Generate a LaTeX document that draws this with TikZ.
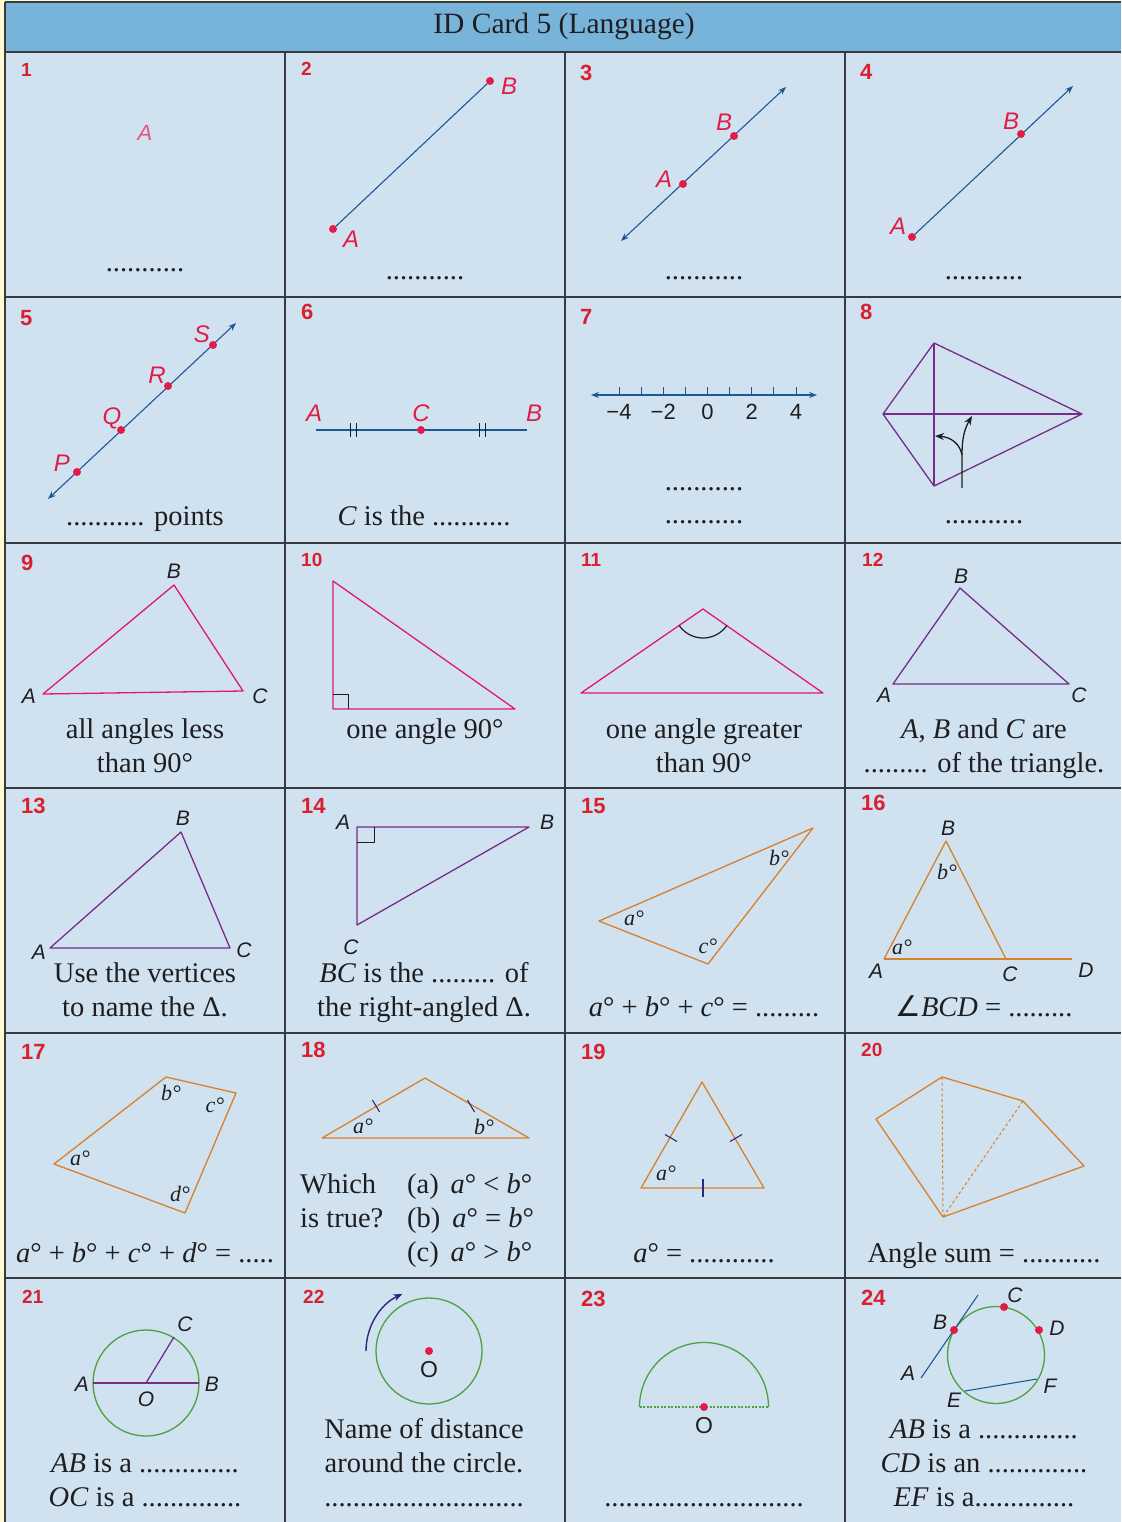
\documentclass[tikz,border=0pt]{standalone}
\usepackage{fontspec}
\setmainfont{Liberation Serif}
\newfontfamily\sansfam{Liberation Sans}
\newfontfamily\symfam{DejaVu Sans}
\usetikzlibrary{arrows.meta,calc}
\definecolor{ink}{RGB}{30,30,32}
\definecolor{pagecream}{RGB}{255,249,210}
\definecolor{headblue}{RGB}{120,180,217}
\definecolor{cellblue}{RGB}{208,226,239}
\definecolor{gridgray}{RGB}{55,58,62}
\definecolor{numred}{RGB}{218,32,48}
\definecolor{pointred}{RGB}{226,28,72}
\definecolor{rayblue}{RGB}{28,88,150}
\definecolor{shapemagenta}{RGB}{226,22,120}
\definecolor{shapepurple}{RGB}{118,44,138}
\definecolor{shapeorange}{RGB}{216,128,44}
\definecolor{circlegreen}{RGB}{78,160,66}
\definecolor{marknavy}{RGB}{40,42,120}

\tikzset{
  gridline/.style={draw=gridgray,line width=1.4pt},
  numtall/.style={font=\sansfam\bfseries\fontsize{22}{22}\selectfont,text=numred,anchor=west,inner sep=0pt},
  numsmall/.style={numtall,font=\sansfam\bfseries\fontsize{19}{19}\selectfont},
  ptlabel/.style={font=\sansfam\itshape\fontsize{24}{24}\selectfont,text=pointred,inner sep=0pt},
  vxlabel/.style={font=\sansfam\itshape\fontsize{21}{21}\selectfont,text=ink,inner sep=0pt},
  olabel/.style={font=\sansfam\fontsize{23}{23}\selectfont,text=ink,inner sep=0pt},
  anglabel/.style={font=\itshape\fontsize{22}{22}\selectfont,text=ink,inner sep=0pt},
  celltext/.style={font=\fontsize{28.5}{34}\selectfont,text=ink,inner sep=0pt,anchor=base},
  dotmark/.style={circle,fill=pointred,inner sep=0pt,minimum size=8pt},
  ray/.style={draw=rayblue,line width=1.1pt},
  oneway/.style={ray,-{Stealth[length=8pt,width=6pt]}},
  twoway/.style={ray,{Stealth[length=8pt,width=6pt]}-{Stealth[length=8pt,width=6pt]}},
  magline/.style={draw=shapemagenta,line width=1.3pt,line join=round},
  purpline/.style={draw=shapepurple,line width=1.3pt,line join=round},
  orangeline/.style={draw=shapeorange,line width=1.3pt,line join=round},
  greenline/.style={draw=circlegreen,line width=1.3pt},
  tickmark/.style={draw=marknavy,line width=1.1pt}
}

\begin{document}
\begin{tikzpicture}[x=1pt,y=-1pt]
  \useasboundingbox (0,0) rectangle (1121,1522);
  \fill[pagecream] (0,0) rectangle (1121,1522);
  \fill[headblue] (5,2) rectangle (1121,52);
  \fill[cellblue] (5,52) rectangle (1121,1522);
  \foreach \y in {2,52,297,543,788,1033,1278}
    \draw[gridline] (5,\y) -- (1121,\y);
  \draw[gridline] (5,2) -- (5,1522);
  \foreach \x in {285,565,845}
    \draw[gridline] (\x,52) -- (\x,1522);

  \node[font=\fontsize{29.5}{29.5}\selectfont,text=ink,anchor=base,inner sep=0pt]
    (title) at (564,34) {ID Card 5 (Language)};

  \foreach \n/\x/\y/\s in {1/21/70/numsmall,2/301/69/numsmall,3/580/73/numtall,
      4/860/72/numtall,5/20/318/numtall,6/301/312/numtall,7/580/317/numtall,
      8/860/312/numtall,9/21/563/numtall,10/301/560/numsmall,11/581/560/numsmall,
      12/862/560/numsmall,13/21/806/numtall,14/301/806/numtall,15/581/806/numtall,
      16/861/803/numtall,17/21/1052/numtall,18/301/1050/numtall,19/581/1052/numtall,
      20/861/1050/numsmall,21/22/1297/numsmall,22/303/1297/numsmall,
      23/581/1299/numtall,24/861/1298/numtall}
    \node[\s] (num\n) at (\x,\y) {\n};

  % row 1
  \node[ptlabel,font=\sansfam\itshape\fontsize{22}{22}\selectfont,text=pointred!75]
    (la1) at (145,133) {A};
  \node[celltext] (txt1) at (145,272) {...........};

  \coordinate (pa2) at (333,229);
  \coordinate (pb2) at (490,81);
  \draw[ray] (pa2) -- (pb2);
  \node[dotmark] (da2) at (pa2) {};
  \node[dotmark] (db2) at (pb2) {};
  \node[ptlabel] (la2) at (351,239) {A};
  \node[ptlabel] (lb2) at (509,86) {B};
  \node[celltext] (txt2) at (425,279) {...........};

  \coordinate (s3) at (621,241);
  \coordinate (e3) at (786,87);
  \draw[twoway] (s3) -- (e3);
  \node[dotmark] (da3) at (683,184) {};
  \node[dotmark] (db3) at (734,136) {};
  \node[ptlabel] (la3) at (664,179) {A};
  \node[ptlabel] (lb3) at (724,122) {B};
  \node[celltext] (txt3) at (704,279) {...........};

  \coordinate (pa4) at (912,237);
  \coordinate (e4) at (1073,86);
  \draw[oneway] (pa4) -- (e4);
  \node[dotmark] (da4) at (pa4) {};
  \node[dotmark] (db4) at (1021,134) {};
  \node[ptlabel] (la4) at (898,226) {A};
  \node[ptlabel] (lb4) at (1011,121) {B};
  \node[celltext] (txt4) at (984,279) {...........};

  % row 2
  \coordinate (s5) at (48,499);
  \coordinate (e5) at (236,323);
  \draw[twoway] (s5) -- (e5);
  \foreach \p/\x/\y/\lx/\ly in {P/77/472/62/463,Q/121/430/112/418,
      R/168/386/157/375,S/213/345/202/334}{
    \node[dotmark] (d\p) at (\x,\y) {};
    \node[ptlabel] (l\p) at (\lx,\ly) {\p};
  }
  \node[celltext] (txt5) at (145,525) {........... points};

  \coordinate (pa6) at (316,430);
  \coordinate (pb6) at (527,430);
  \draw[ray] (pa6) -- (pb6);
  \foreach \x in {350,356,479,485}
    \draw[ink,line width=1pt] (\x,423) -- (\x,437);
  \node[dotmark] (dc6) at (421,430) {};
  \node[ptlabel] (la6) at (314,413) {A};
  \node[ptlabel] (lc6) at (421,413) {C};
  \node[ptlabel] (lb6) at (534,413) {B};
  \node[celltext] (txt6) at (424,525) {\textit{C} is the ...........};

  \coordinate (s7) at (591,395);
  \coordinate (e7) at (817,395);
  \draw[twoway] (s7) -- (e7);
  \foreach \i in {0,...,8}
    \draw[rayblue,line width=1pt] ({619+22.125*\i},387) -- ({619+22.125*\i},395);
  \foreach \v/\i in {−4/0,−2/2,0/4,2/6,4/8}
    \node[font=\sansfam\fontsize{22}{22}\selectfont,text=ink,inner sep=0pt]
      (tick\i) at ({619+22.125*\i},412) {\v};
  \node[celltext] (txt7a) at (704,490) {...........};
  \node[celltext] (txt7b) at (704,523) {...........};

  \coordinate (kt) at (934,343);
  \coordinate (kl) at (883,414);
  \coordinate (kr) at (1082,414);
  \coordinate (kb) at (934,486);
  \draw[purpline] (kt) -- (kr) -- (kb) -- (kl) -- cycle;
  \draw[purpline] (kt) -- (kb);
  \draw[purpline] (kl) -- (kr);
  \coordinate (ks) at (962,488);
  \coordinate (kj) at (962,455);
  \draw[ink,line width=1.3pt,-{Stealth[length=9pt,width=7pt]}]
    (ks) -- (kj) .. controls (962,437) and (965,428) .. (972,416);
  \draw[ink,line width=1.3pt,-{Stealth[length=9pt,width=7pt]}]
    (kj) .. controls (960,444) and (951,437) .. (935,436);
  \node[celltext] (txt8) at (984,523) {...........};

  % row 3
  \coordinate (a9) at (43,694);
  \coordinate (b9) at (174,585);
  \coordinate (c9) at (243,691);
  \draw[magline] (a9) -- (b9) -- (c9) -- cycle;
  \node[vxlabel] (la9) at (29,696) {A};
  \node[vxlabel] (lb9) at (174,571) {B};
  \node[vxlabel] (lc9) at (260,696) {C};
  \node[celltext] (txt9a) at (145,738) {all angles less};
  \node[celltext] (txt9b) at (145,772) {than 90°};

  \coordinate (a10) at (333,581);
  \coordinate (b10) at (333,709);
  \coordinate (c10) at (515,709);
  \draw[magline] (a10) -- (b10) -- (c10) -- cycle;
  \draw[ink,line width=0.9pt] (333,694) -- (348,694) -- (348,709);
  \node[celltext] (txt10) at (425,738) {one angle 90°};

  \coordinate (a11) at (581,693);
  \coordinate (b11) at (703,609);
  \coordinate (c11) at (823,693);
  \draw[magline] (a11) -- (b11) -- (c11) -- cycle;
  \draw[ink,line width=1.2pt] (b11) ++(145:29) arc[start angle=145,end angle=35,radius=29];
  \node[celltext] (txt11a) at (704,738) {one angle greater};
  \node[celltext] (txt11b) at (704,772) {than 90°};

  \coordinate (a12) at (893,684);
  \coordinate (b12) at (960,588);
  \coordinate (c12) at (1069,684);
  \draw[purpline] (a12) -- (b12) -- (c12) -- cycle;
  \node[vxlabel] (la12) at (884,695) {A};
  \node[vxlabel] (lb12) at (961,576) {B};
  \node[vxlabel] (lc12) at (1079,695) {C};
  \node[celltext] (txt12a) at (984,738) {\textit{A}, \textit{B} and \textit{C} are};
  \node[celltext] (txt12b) at (984,772) {......... of the triangle.};

  % row 4
  \coordinate (a13) at (50,948);
  \coordinate (b13) at (181,832);
  \coordinate (c13) at (230,948);
  \draw[purpline] (a13) -- (b13) -- (c13) -- cycle;
  \node[vxlabel] (la13) at (39,952) {A};
  \node[vxlabel] (lb13) at (183,818) {B};
  \node[vxlabel] (lc13) at (244,950) {C};
  \node[celltext] (txt13a) at (145,982) {Use the vertices};
  \node[celltext] (txt13b) at (145,1016) {to name the Δ.};

  \coordinate (a14) at (357,827);
  \coordinate (b14) at (529,827);
  \coordinate (c14) at (357,925);
  \draw[purpline] (a14) -- (b14) -- (c14) -- cycle;
  \draw[ink,line width=0.9pt] (357,842) -- (374,842) -- (374,827);
  \node[vxlabel] (la14) at (343,822) {A};
  \node[vxlabel] (lb14) at (547,822) {B};
  \node[vxlabel] (lc14) at (351,947) {C};
  \node[celltext] (txt14a) at (424,982) {\textit{BC} is the ......... of};
  \node[celltext] (txt14b) at (424,1016) {the right-angled Δ.};

  \coordinate (a15) at (599,921);
  \coordinate (b15) at (813,828);
  \coordinate (c15) at (708,964);
  \draw[orangeline] (a15) -- (b15) -- (c15) -- cycle;
  \node[anglabel] (ga15) at (634,918) {a°};
  \node[anglabel] (gb15) at (779,858) {b°};
  \node[anglabel] (gc15) at (708,946) {c°};
  \node[celltext] (txt15) at (704,1016) {\textit{a}° + \textit{b}° + \textit{c}° = .........};

  \coordinate (a16) at (884,959);
  \coordinate (b16) at (946,841);
  \coordinate (c16) at (1006,959);
  \coordinate (d16) at (1072,959);
  \draw[orangeline] (a16) -- (b16) -- (c16);
  \draw[orangeline] (a16) -- (d16);
  \node[anglabel] (gb16) at (947,872) {b°};
  \node[anglabel] (ga16) at (902,947) {a°};
  \node[vxlabel] (lb16) at (948,828) {B};
  \node[vxlabel] (la16) at (876,971) {A};
  \node[vxlabel] (lc16) at (1010,974) {C};
  \node[vxlabel] (ld16) at (1086,970) {D};
  \node[celltext] (txt16) at (984,1016) {{\symfam ∠}\textit{BCD} = .........};

  % row 5
  \coordinate (a17) at (54,1164);
  \coordinate (b17) at (166,1077);
  \coordinate (c17) at (236,1093);
  \coordinate (d17) at (185,1213);
  \draw[orangeline] (a17) -- (b17) -- (c17) -- (d17) -- cycle;
  \node[anglabel] (ga17) at (80,1158) {a°};
  \node[anglabel] (gb17) at (171,1093) {b°};
  \node[anglabel] (gc17) at (215,1105) {c°};
  \node[anglabel] (gd17) at (180,1194) {d°};
  \node[celltext] (txt17) at (145,1262) {\textit{a}° + \textit{b}° + \textit{c}° + \textit{d}° = .....};

  \coordinate (a18) at (322,1138);
  \coordinate (b18) at (425,1078);
  \coordinate (c18) at (529,1138);
  \draw[orangeline] (a18) -- (b18) -- (c18) -- cycle;
  \draw[tickmark] (372.4,1100) -- (379.6,1112);
  \draw[tickmark] (467.5,1100) -- (474.5,1112);
  \node[anglabel] (ga18) at (363,1126) {a°};
  \node[anglabel] (gb18) at (484,1127) {b°};
  \node[celltext,anchor=base west] (txt18a) at (300,1193) {Which};
  \node[celltext,anchor=base west] (txt18b) at (300,1227) {is true?};
  \node[celltext,anchor=base west] (opt18a) at (407,1193) {(a)\, \textit{a}° < \textit{b}°};
  \node[celltext,anchor=base west] (opt18b) at (407,1227) {(b)\, \textit{a}° = \textit{b}°};
  \node[celltext,anchor=base west] (opt18c) at (407,1261) {(c)\, \textit{a}° > \textit{b}°};

  \coordinate (a19) at (702,1082);
  \coordinate (b19) at (641,1188);
  \coordinate (c19) at (764,1188);
  \draw[orangeline] (a19) -- (b19) -- (c19) -- cycle;
  \draw[tickmark] (665,1134.5) -- (677,1141.5);
  \draw[tickmark] (730,1141.5) -- (742,1134.5);
  \draw[tickmark] (703,1179) -- (703,1197);
  \node[anglabel] (ga19) at (666,1173) {a°};
  \node[celltext] (txt19) at (704,1262) {\textit{a}° = ............};

  \coordinate (a20) at (942,1077);
  \coordinate (b20) at (1023,1101);
  \coordinate (c20) at (1084,1166);
  \coordinate (d20) at (943,1217);
  \coordinate (e20) at (876,1119);
  \draw[orangeline] (a20) -- (b20) -- (c20) -- (d20) -- (e20) -- cycle;
  \draw[draw=shapeorange,line width=1pt,dash pattern=on 3pt off 2.5pt] (a20) -- (d20);
  \draw[draw=shapeorange,line width=1pt,dash pattern=on 3pt off 2.5pt] (b20) -- (d20);
  \node[celltext] (txt20) at (984,1262) {Angle sum = ...........};

  % row 6
  \coordinate (o21) at (146,1383);
  \coordinate (a21) at (93,1383);
  \coordinate (b21) at (199,1383);
  \coordinate (c21) at (174,1337);
  \draw[greenline] (o21) circle[radius=53];
  \draw[draw=shapepurple,line width=2pt] (a21) -- (b21);
  \draw[purpline] (o21) -- (c21);
  \node[vxlabel] (lc21) at (185,1324) {C};
  \node[vxlabel] (la21) at (82,1384) {A};
  \node[vxlabel] (lb21) at (212,1384) {B};
  \node[vxlabel] (lo21) at (146,1399) {O};
  \node[celltext] (txt21a) at (145,1472) {\textit{AB} is a ..............};
  \node[celltext] (txt21b) at (145,1506) {\textit{OC} is a ..............};

  \coordinate (o22) at (429,1351);
  \draw[greenline] (o22) circle[radius=53];
  \draw[draw=marknavy,line width=1.4pt,-{Stealth[length=9pt,width=7pt]}]
    (o22) ++(180:63) arc[start angle=180,end angle=245,radius=63];
  \node[dotmark] (do22) at (o22) {};
  \node[olabel] (lo22) at (429,1370) {O};
  \node[celltext] (txt22a) at (424,1438) {Name of distance};
  \node[celltext] (txt22b) at (424,1472) {around the circle.};
  \node[celltext] (txt22c) at (424,1506) {............................};

  \coordinate (o23) at (704,1407);
  \draw[greenline] (o23) ++(180:64.5) arc[start angle=180,end angle=360,radius=64.5];
  \draw[draw=circlegreen,line width=1.3pt,dash pattern=on 2pt off 1.5pt]
    ($(o23)+(-64.5,0)$) -- ($(o23)+(64.5,0)$);
  \node[dotmark] (do23) at (o23) {};
  \node[olabel] (lo23) at (704,1426) {O};
  \node[celltext] (txt23) at (704,1506) {............................};

  \coordinate (o24) at (996,1355);
  \coordinate (a24) at (921,1378);
  \coordinate (t24) at (978,1295);
  \coordinate (e24) at (965,1391);
  \coordinate (f24) at (1037,1379);
  \draw[greenline] (o24) circle[radius=48.5];
  \draw[ray] (a24) -- (t24);
  \draw[ray] (e24) -- (f24);
  \node[dotmark] (db24) at (954,1330) {};
  \node[dotmark] (dc24) at (1004,1307) {};
  \node[dotmark] (dd24) at (1039,1330) {};
  \node[vxlabel] (lb24) at (940,1322) {B};
  \node[vxlabel] (lc24) at (1015,1295) {C};
  \node[vxlabel] (ld24) at (1057,1328) {D};
  \node[vxlabel] (la24) at (908,1373) {A};
  \node[vxlabel] (le24) at (954,1400) {E};
  \node[vxlabel] (lf24) at (1050,1386) {F};
  \node[celltext] (txt24a) at (984,1438) {\textit{AB} is a ..............};
  \node[celltext] (txt24b) at (984,1472) {\textit{CD} is an ..............};
  \node[celltext] (txt24c) at (984,1506) {\textit{EF} is a..............};
\end{tikzpicture}
\end{document}
